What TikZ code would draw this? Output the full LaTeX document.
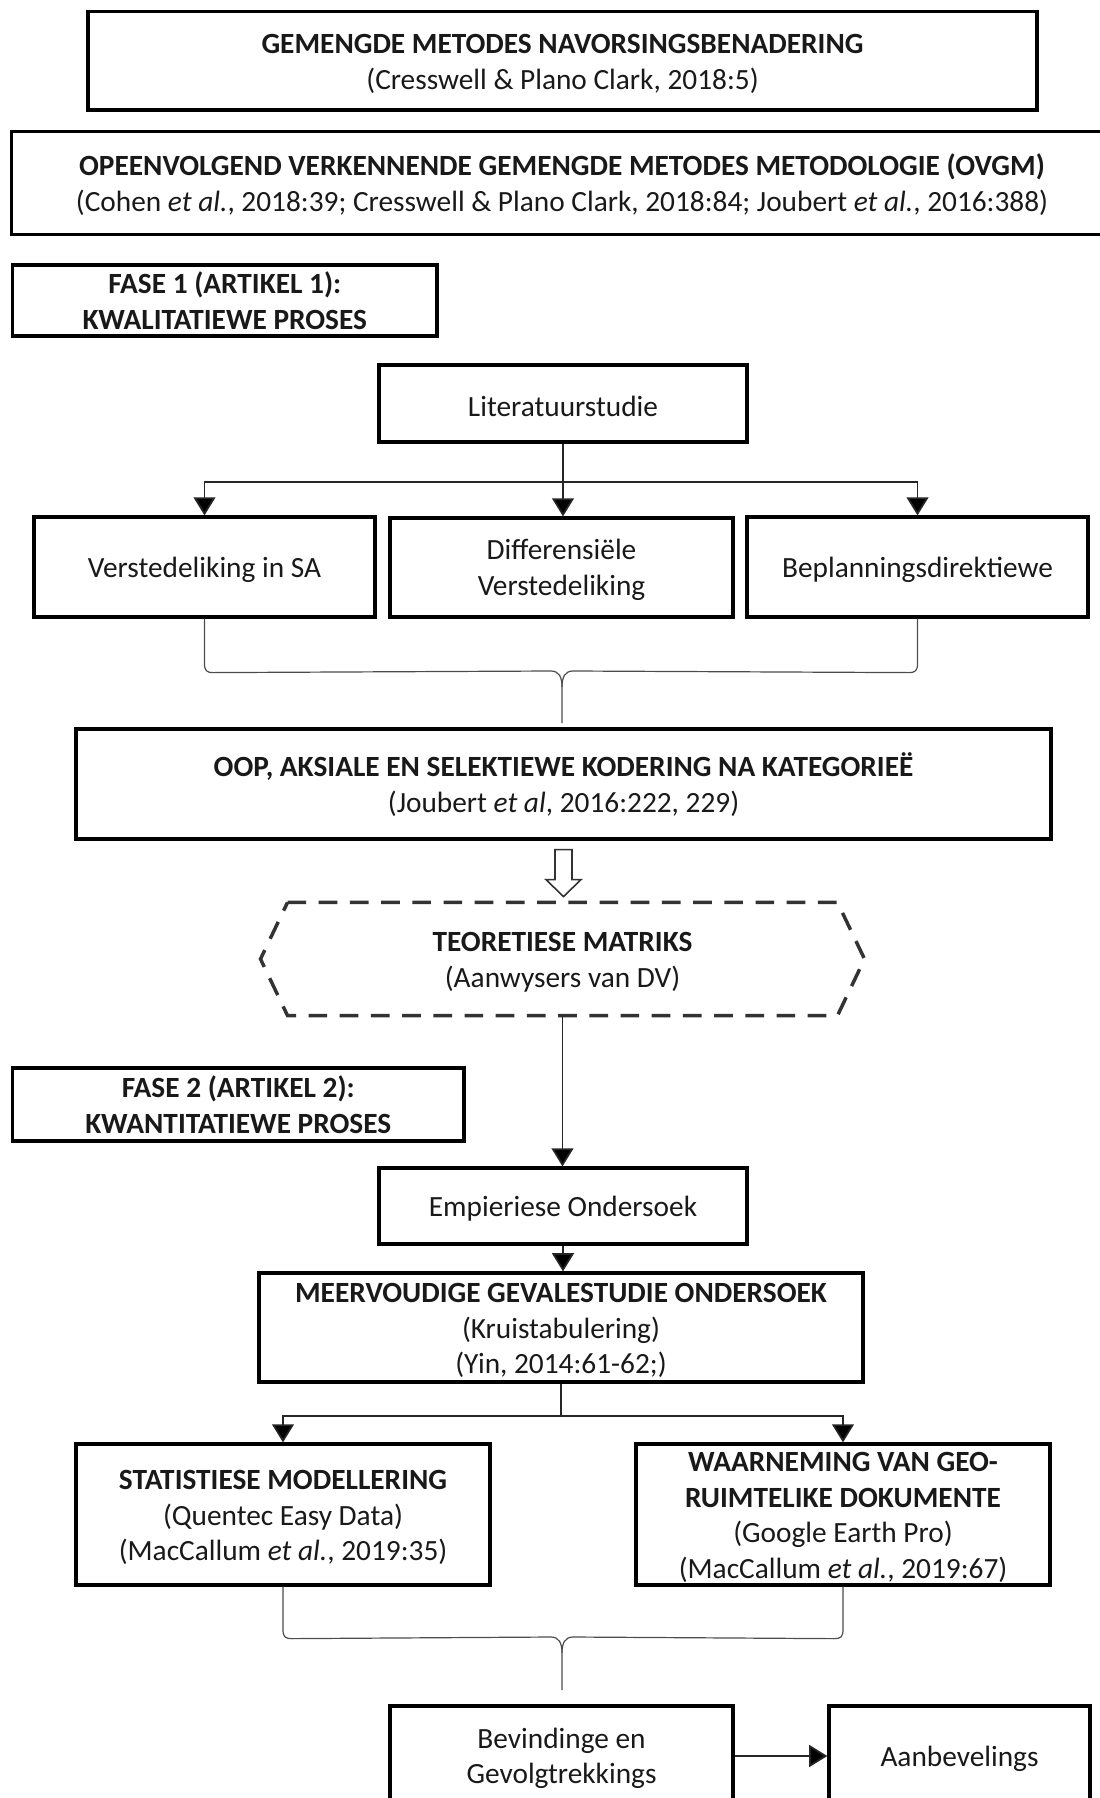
\documentclass[tikz,border=0pt]{standalone}
\usepackage{fontspec}
\setmainfont{Carlito}
\usetikzlibrary{arrows.meta,calc}
\newcommand\tp{\rule{0pt}{9.5pt}}
\begin{document}
\begin{tikzpicture}[x=0.375pt,y=-0.375pt,
  box/.style={draw=black,line width=1.2pt,inner sep=0pt,align=center,
    font=\fontsize{11}{13.3}\selectfont,text=black!90},
  conn/.style={line width=0.65pt,draw=black!85},
  arr/.style={conn,-{Triangle[length=6.8pt,width=8.2pt,fill=black]}},
  brace/.style={line width=0.45pt,draw=black!70},
]
\useasboundingbox (0,0) rectangle (1099,1798);

% top boxes
\node[box,minimum width=355.9pt,minimum height=36.9pt] (gm) at (562.5,60.75)
  {\tp\textbf{GEMENGDE METODES NAVORSINGSBENADERING}\\(Cresswell \& Plano Clark, 2018:5)};
\node[box,draw=none,minimum width=421.7pt,minimum height=37.5pt] (ov) at (575,183) {};
\draw[line width=1.2pt] (ov.north east) -- (ov.north west) -- (ov.south west) -- (ov.south east);
\node[box,draw=none] (ovt) at (562,183)
  {\tp\textbf{OPEENVOLGEND VERKENNENDE GEMENGDE METODES METODOLOGIE (OVGM)}\\(Cohen \textit{et al.}, 2018:39; Cresswell \& Plano Clark, 2018:84; Joubert \textit{et al.}, 2016:388)};
\node[box,minimum width=159.2pt,minimum height=26.6pt] (f1) at (224.8,300.5)
  {\textbf{FASE 1 (ARTIKEL 1):}\\\textbf{KWALITATIEWE PROSES}};

% phase 1
\node[box,minimum width=138pt,minimum height=28.9pt] (lit) at (563,403.5) {\tp Literatuurstudie};
\node[box,minimum width=127.9pt,minimum height=37.5pt] (ver) at (204.5,567) {\tp Verstedeliking in SA};
\node[box,minimum width=128.6pt,minimum height=37.1pt] (dif) at (561.5,567.5) {\tp Differensiële\\Verstedeliking};
\node[box,minimum width=127.9pt,minimum height=37.5pt] (bep) at (917.5,567) {\tp Beplanningsdirektiewe};

\coordinate (j1) at ($(lit.south)+(0,38)$);
\draw[conn] (lit.south) -- (j1);
\draw[arr] (j1) -| (ver.north);
\draw[arr] (j1) -- (j1 |- dif.north);
\draw[arr] (j1) -| (bep.north);

\node[box,minimum width=365.6pt,minimum height=41.25pt] (oop) at (563.5,784)
  {\tp\textbf{OOP, AKSIALE EN SELEKTIEWE KODERING NA KATEGORIEË}\\(Joubert \textit{et al}, 2016:222, 229)};

% brace 1
\coordinate (bt1) at (562,723);
\draw[brace] (ver.south) -- ++(0,45) .. controls +(0,7) and +(-7,0) .. ++(9,9)
  -- (551,671) .. controls +(8,0) and +(0,-10) .. (562,687) -- (bt1);
\draw[brace] (bep.south) -- ++(0,45) .. controls +(0,7) and +(7,0) .. ++(-9,9)
  -- (573,671) .. controls +(-8,0) and +(0,-10) .. (562,687);

% hollow arrow
\begin{scope}[shift={(oop.south)}]
\draw[line width=0.6pt,draw=black!80,fill=white] (-8.5,9) -- (8.5,9) -- (8.5,39) -- (17.5,39) -- (0,56)
  -- (-17.5,39) -- (-8.5,39) -- cycle;
\end{scope}

% hexagon
\node[inner sep=0pt,align=center,minimum width=226.1pt,minimum height=42pt,
  font=\fontsize{11}{13.3}\selectfont,text=black!90] (hex) at (562.5,959)
  {\tp\textbf{TEORETIESE MATRIKS}\\(Aanwysers van DV)};
\draw[line width=1.3pt,draw=black!80,dash pattern=on 7pt off 4.7pt]
  ($(hex.north west)+(27,0)$) -- ($(hex.north east)+(-27,0)$) -- (hex.east)
  -- ($(hex.south east)+(-27,0)$) -- ($(hex.south west)+(27,0)$) -- (hex.west) -- cycle;

% phase 2
\node[box,minimum width=169.3pt,minimum height=27.4pt] (f2) at (238.3,1104.5)
  {\textbf{FASE 2 (ARTIKEL 2):}\\\textbf{KWANTITATIEWE PROSES}};
\node[box,minimum width=138pt,minimum height=28.5pt] (emp) at (563,1206) {\tp Empieriese Ondersoek};
\draw[arr] (hex.south) -- (hex.south |- emp.north);

\node[box,minimum width=226.5pt,minimum height=40.9pt] (mee) at (561,1327.5)
  {\tp\textbf{MEERVOUDIGE GEVALESTUDIE ONDERSOEK}\\(Kruistabulering)\\(Yin, 2014:61-62;)};
\draw[arr] (emp.south) -- (emp.south |- mee.north);

\node[box,minimum width=155.25pt,minimum height=52.9pt] (sta) at (283,1514.5)
  {\tp\textbf{STATISTIESE MODELLERING}\\(Quentec Easy Data)\\(MacCallum \textit{et al.}, 2019:35)};
\node[box,minimum width=155.25pt,minimum height=52.9pt] (waa) at (843,1514.5)
  {\tp\textbf{WAARNEMING VAN GEO-}\\\textbf{RUIMTELIKE DOKUMENTE}\\(Google Earth Pro)\\(MacCallum \textit{et al.}, 2019:67)};

\coordinate (j2) at ($(mee.south)+(0,32)$);
\draw[conn] (mee.south) -- (j2);
\draw[arr] (j2) -| (sta.north);
\draw[arr] (j2) -| (waa.north);

% brace 2
\coordinate (bt2) at (562,1690);
\draw[brace] (sta.south) -- ++(0,43) .. controls +(0,7) and +(-7,0) .. ++(9,9)
  -- (551,1637) .. controls +(8,0) and +(0,-10) .. (562,1653) -- (bt2);
\draw[brace] (waa.south) -- ++(0,43) .. controls +(0,7) and +(7,0) .. ++(-9,9)
  -- (573,1637) .. controls +(-8,0) and +(0,-10) .. (562,1653);

% bottom
\node[box,minimum width=128.6pt,minimum height=37.5pt] (bev) at (561.5,1756)
  {\tp Bevindinge en\\Gevolgtrekkings};
\node[box,minimum width=97.9pt,minimum height=37.5pt] (aan) at (959.5,1756) {\tp Aanbevelings};
\draw[arr] (bev.east) -- (aan.west);
\end{tikzpicture}
\end{document}
